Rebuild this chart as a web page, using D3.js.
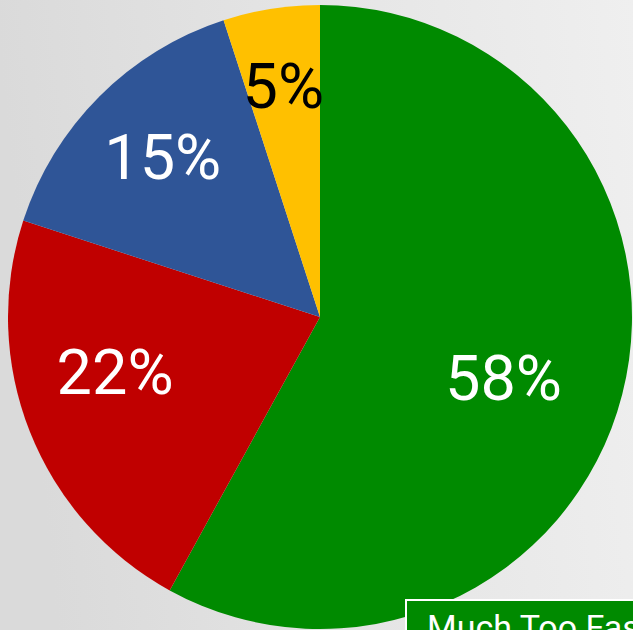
<!DOCTYPE html>
<html>
<head>
<meta charset="utf-8">
<script src="https://cdn.jsdelivr.net/npm/d3@7"></script>
<style>
  html, body { margin: 0; padding: 0; overflow: hidden; }
  svg { display: block; }
</style>
</head>
<body>
<svg id="chart" width="633" height="630"></svg>
<script>
// Survey answers and their shares (percent)
const categories = ["Much Too Fast", "Too Fast", "About Right", "Too Slow"];
const values = [58, 22, 15, 5];
const colors = ["#008a00", "#c00000", "#2f5597", "#ffc000"];
const labelColors = ["#ffffff", "#ffffff", "#ffffff", "#000000"];

// Label placement: fraction of the radius and angular shift (radians) per slice
const labelRadiusFrac = [0.62, 0.68, 0.72, 0.75];
const labelAngleShift = [0.07, 0.115, 0.01, 0.0];

const W = 633, H = 630;
const cx = 320, cy = 317, R = 312;

const svg = d3.select("#chart");

// Soft grey backdrop, darker on the left
const defs = svg.append("defs");
const grad = defs.append("linearGradient")
  .attr("id", "bg").attr("x1", "0").attr("y1", "0.1").attr("x2", "1").attr("y2", "0");
grad.append("stop").attr("offset", "0").attr("stop-color", "#dadada");
grad.append("stop").attr("offset", "0.5").attr("stop-color", "#e5e5e5");
grad.append("stop").attr("offset", "1").attr("stop-color", "#efefef");
svg.append("rect").attr("width", W).attr("height", H).attr("fill", "url(#bg)");

const pie = d3.pie().sort(null).value(d => d);
const arcs = pie(values);
const arc = d3.arc().innerRadius(0).outerRadius(R);

const g = svg.append("g").attr("transform", `translate(${cx},${cy})`);

g.selectAll("path.slice")
  .data(arcs)
  .join("path")
  .attr("class", "slice")
  .attr("d", arc)
  .attr("fill", (d, i) => colors[i]);

// Percentage labels
g.selectAll("text.pct")
  .data(arcs)
  .join("text")
  .attr("class", "pct")
  .attr("transform", (d, i) => {
    const a = (d.startAngle + d.endAngle) / 2 + labelAngleShift[i];
    const r = R * labelRadiusFrac[i];
    return `translate(${r * Math.sin(a)},${-r * Math.cos(a)})`;
  })
  .attr("text-anchor", "middle")
  .attr("dy", "0.355em")
  .attr("font-family", "Roboto, 'Noto Sans', sans-serif")
  .attr("font-size", 63)
  .attr("fill", (d, i) => labelColors[i])
  .text(d => `${d.data}%`);

// Legend (only the top entry falls inside the view)
const legend = svg.append("g").attr("transform", "translate(406,600)");
const rowH = 50;
const items = legend.selectAll("g.item")
  .data(categories)
  .join("g")
  .attr("class", "item")
  .attr("transform", (d, i) => `translate(0,${i * rowH})`);
items.append("rect")
  .attr("width", 270).attr("height", rowH - 4)
  .attr("fill", (d, i) => colors[i])
  .attr("stroke", "#ffffff").attr("stroke-width", 2);
items.append("text")
  .attr("x", 21).attr("y", 39)
  .attr("font-family", "Roboto, 'Noto Sans', sans-serif")
  .attr("font-size", 34)
  .attr("fill", (d, i) => labelColors[i])
  .text(d => d);
</script>
</body>
</html>
